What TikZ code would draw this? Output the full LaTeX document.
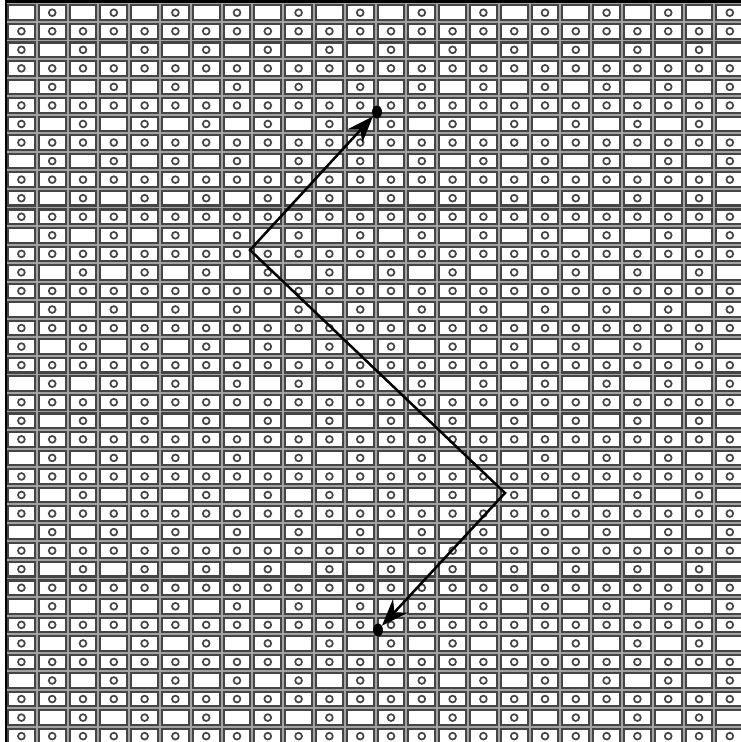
\documentclass[tikz,border=0pt]{standalone}
\usepackage{xcolor}
\usetikzlibrary{arrows.meta,shapes.geometric}
\definecolor{cellgray}{HTML}{454545}
\definecolor{gapgray}{HTML}{A2A2A2}
\tikzset{
  cell/.style={draw=cellgray,line width=2.1pt,fill=white},
  ring/.style={draw=cellgray,line width=1.7pt},
  dot/.style={ellipse,fill=black,inner sep=0pt,minimum width=10pt,minimum height=13pt},
  path/.style={line width=2.5pt,>={Stealth[length=27pt,width=20pt]}}
}

\begin{document}
\begin{tikzpicture}[x=1pt,y=-1pt]
  \useasboundingbox (0,0) rectangle (741,742);
  \begin{scope}
    \clip (0,0) rectangle (741,742);
    \fill[gapgray] (6,1) rectangle (741,742);
    % cells
    \foreach \r in {0,...,39}
      \foreach \c in {0,...,23}
        \draw[cell] ({8+30.8*\c},{5.4+18.55*\r}) rectangle ++(26.8,14.6);
    % rings: full rows, then the two staggered rows
    \foreach \r in {1,3,...,39}
      \foreach \c in {0,...,23}
        \draw[ring] ({21.4+30.8*\c},{12.7+18.55*\r}) circle[radius=3.4];
    \foreach \r in {0,4,...,36}
      \foreach \c in {1,3,...,23}
        \draw[ring] ({21.4+30.8*\c},{12.7+18.55*\r}) circle[radius=3.4];
    \foreach \r in {2,6,...,38}
      \foreach \c in {0,2,...,22}
        \draw[ring] ({21.4+30.8*\c},{12.7+18.55*\r}) circle[radius=3.4];
    \draw[black,line width=2.4pt] (6,742) -- (6,1.5) -- (741,1.5);
  \end{scope}

  \node[dot] (upper) at (377,112) {};
  \node[dot] (lower) at (378,630) {};
  \coordinate (kneeL) at (250,250);
  \coordinate (kneeR) at (505,493);
  \draw[path,<->] (upper) -- (kneeL) -- (kneeR) -- (lower);
\end{tikzpicture}
\end{document}
